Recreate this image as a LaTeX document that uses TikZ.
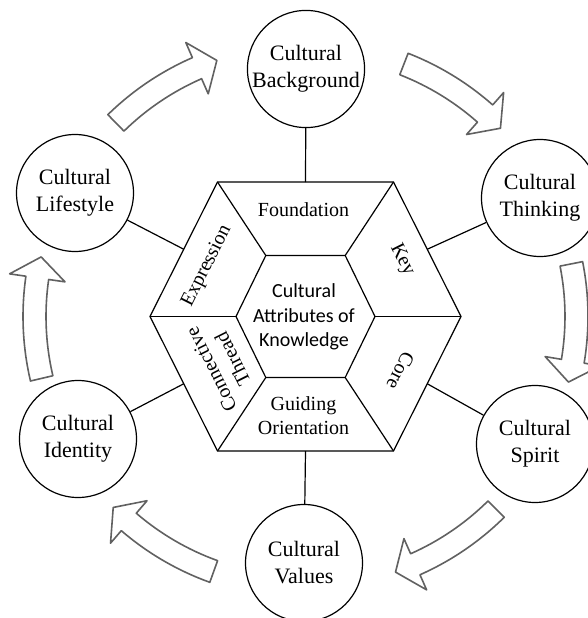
\documentclass[tikz,border=0pt]{standalone}
\usepackage{fontspec}
\setmainfont{Liberation Serif}
\newfontfamily\calibfont{Carlito}
\usetikzlibrary{calc}
\newcommand\curvarrow[2]{%
  \pgfmathsetmacro\hb{#2+4.5}%
  \draw[cyclearrow] ($(C)+(#1:282.5pt)$) arc[start angle=#1, end angle=\hb, radius=282.5pt]
    -- ($(C)+(\hb:299pt)$) -- ($(C)+(#2:271pt)$) -- ($(C)+(\hb:243pt)$)
    -- ($(C)+(\hb:259.5pt)$) arc[start angle=\hb, end angle=#1, radius=259.5pt] -- cycle;}
\begin{document}
\begin{tikzpicture}[x=1pt,y=1pt,
  hexline/.style={line width=1.2pt, draw=black},
  topic/.style={draw, line width=1.2pt, circle, minimum size=117pt, inner sep=0pt, align=center, font=\fontsize{22pt}{27pt}\selectfont},
  seglabel/.style={inner sep=0pt, align=center, font=\fontsize{20pt}{24pt}\selectfont},
  corelabel/.style={inner sep=0pt, align=center, font=\calibfont\fontsize{20pt}{24.5pt}\selectfont},
  cyclearrow/.style={draw=black!62, fill=white, line width=1.6pt, line join=round},
]
\useasboundingbox (0,0) rectangle (588,-618);
\fill[white] (0,0) rectangle (588,-618);

\coordinate (C) at (305.5,-316.5);
% outer hexagon
\coordinate (O1) at (217.5,-182);
\coordinate (O2) at (393.5,-182);
\coordinate (O3) at (461,-316.5);
\coordinate (O4) at (393.5,-451);
\coordinate (O5) at (217.5,-451);
\coordinate (O6) at (150,-316.5);
% inner hexagon
\coordinate (I1) at (265.8,-255.5);
\coordinate (I2) at (345.2,-255.5);
\coordinate (I3) at (375,-316.5);
\coordinate (I4) at (345.2,-377.5);
\coordinate (I5) at (265.8,-377.5);
\coordinate (I6) at (236,-316.5);
% edge midpoints
\coordinate (Mt) at ($(O1)!0.5!(O2)$);
\coordinate (Mur) at ($(O2)!0.5!(O3)$);
\coordinate (Mlr) at ($(O3)!0.5!(O4)$);
\coordinate (Mb) at ($(O4)!0.5!(O5)$);
\coordinate (Mll) at ($(O5)!0.5!(O6)$);
\coordinate (Mul) at ($(O6)!0.5!(O1)$);

% cycle arrows
\curvarrow{134.4}{109.1}
\curvarrow{68.7}{44}
\curvarrow{11.2}{-14}
\curvarrow{-45.3}{-70.6}
\curvarrow{-109.8}{-135.2}
\curvarrow{193.2}{167.3}

% hexagons
\draw[hexline, line join=miter] (O1)--(O2)--(O3)--(O4)--(O5)--(O6)--cycle;
\draw[hexline, line join=miter] (I1)--(I2)--(I3)--(I4)--(I5)--(I6)--cycle;
\foreach \k in {1,...,6} { \draw[hexline] (I\k) -- (O\k); }

% topic circles
\node[topic] (bg) at (306,-69) {Cultural\\Background};
\node[topic] (think) at (540,-198) {Cultural\\Thinking};
\node[topic] (spirit) at (535,-444) {Cultural\\Spirit};
\node[topic] (values) at (304,-563) {Cultural\\Values};
\node[topic] (ident) at (78,-439) {Cultural\\Identity};
\node[topic] (life) at (75,-193) {Cultural\\Lifestyle};

% spokes
\draw[hexline] (Mt) -- (bg);
\draw[hexline] (Mur) -- (think);
\draw[hexline] (Mlr) -- (spirit);
\draw[hexline] (Mb) -- (values);
\draw[hexline] (Mll) -- (ident);
\draw[hexline] (Mul) -- (life);

% segment labels
\node[corelabel] (core0) at (304,-317) {Cultural\\Attributes of\\Knowledge};
\node[seglabel] (found) at (303.5,-209.5) {Foundation};
\node[seglabel, rotate=-63.4] (key) at (402,-260) {Key};
\node[seglabel, rotate=-116.6] (corel) at (400.5,-370.5) {Core};
\node[seglabel] (guide) at (303.5,-415.5) {Guiding\\Orientation};
\node[seglabel, rotate=116.6] (conn) at (222,-364) {Connective\\Thread};
\node[seglabel, rotate=63.4] (expr) at (207,-266) {Expression};
\end{tikzpicture}
\end{document}
